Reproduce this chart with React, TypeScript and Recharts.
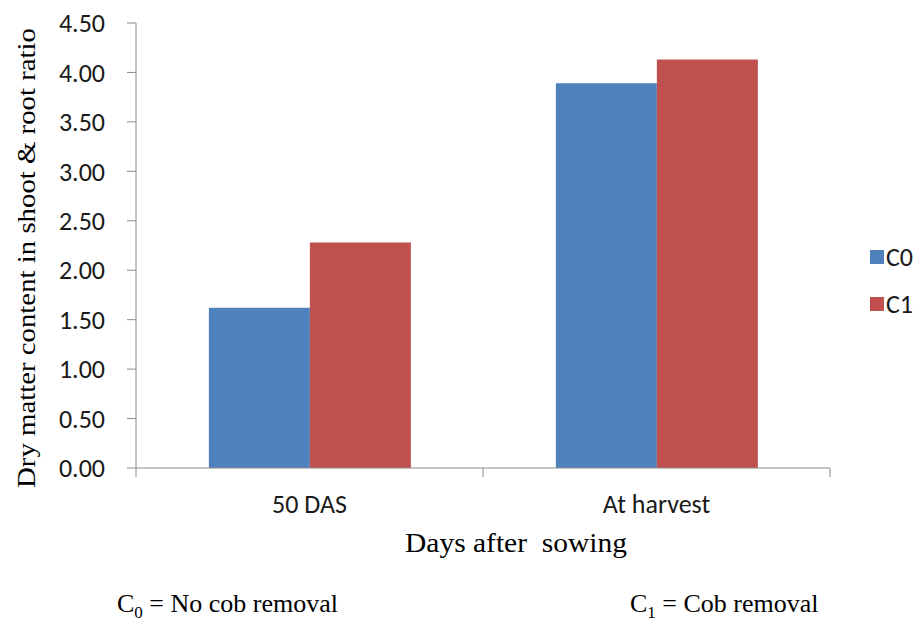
import { BarChart, Bar, XAxis, YAxis, Legend } from 'recharts';

// stages of sampling and the two cob treatments
const stages = ['50 DAS', 'At harvest'];
const c0Values = [1.62, 3.89];
const c1Values = [2.28, 4.13];
const yTicks = [0, 0.5, 1, 1.5, 2, 2.5, 3, 3.5, 4, 4.5];
const seriesNames = ['C0', 'C1'];

const data = stages.map((stage, i) => ({ stage, C0: c0Values[i], C1: c1Values[i] }));

const WIDTH = 923;
const HEIGHT = 621;
const Y_AXIS_W = 136;
const MARGIN = { top: 23, right: 93, left: 0, bottom: 93 };
const BAND = (WIDTH - Y_AXIS_W - MARGIN.right) / stages.length;

const AXIS_COLOR = '#8a8a8a';
const SANS = 'Carlito, Lato, sans-serif';
const SERIF = '"Liberation Serif", "Times New Roman", serif';
const COLORS = { C0: '#4F81BD', C1: '#C0504D' };

const CategoryTick = (props: any) => {
  const { x, y, payload, index } = props;
  const half = BAND / 2;
  return (
    <g>
      <line x1={x - half} y1={y} x2={x - half} y2={y + 9} stroke={AXIS_COLOR} />
      {index === stages.length - 1 && (
        <line x1={x + half} y1={y} x2={x + half} y2={y + 9} stroke={AXIS_COLOR} />
      )}
      <text x={x} y={y + 36} textAnchor="middle" dominantBaseline="central" fill="#1a1a1a" fontSize={26} fontFamily={SANS}>
        {payload.value}
      </text>
    </g>
  );
};

const YTitle = () => (
  <text
    x={26}
    y={258}
    transform="rotate(-90, 26, 258)"
    textAnchor="middle"
    dominantBaseline="central"
    fill="#000"
    fontSize={26}
    fontFamily={SERIF}
    textLength={460}
    lengthAdjust="spacingAndGlyphs"
  >
    Dry matter content in shoot &amp; root ratio
  </text>
);

const XTitle = () => (
  <text
    x={516}
    y={543}
    textAnchor="middle"
    dominantBaseline="central"
    fill="#000"
    fontSize={27}
    fontFamily={SERIF}
    textLength={222}
    lengthAdjust="spacingAndGlyphs"
    style={{ whiteSpace: 'pre' }}
  >
    {'Days after  sowing'}
  </text>
);

const LegendContent = () => (
  <div style={{ fontFamily: SANS, fontSize: 26, color: '#1a1a1a' }}>
    {seriesNames.map((name) => (
      <div key={name} style={{ display: 'flex', alignItems: 'center', height: 47 }}>
        <span
          style={{
            display: 'inline-block',
            width: 14,
            height: 14,
            background: COLORS[name as 'C0' | 'C1'],
            marginRight: 2,
          }}
        />
        <span>{name}</span>
      </div>
    ))}
  </div>
);

const footStyle: React.CSSProperties = {
  position: 'absolute',
  top: 589,
  fontFamily: SERIF,
  fontSize: 26,
  color: '#000',
  whiteSpace: 'nowrap',
};

export default function App() {
  return (
    <div style={{ position: 'absolute', left: 0, top: 0, width: WIDTH, height: HEIGHT, background: '#fff' }}>
      <BarChart width={WIDTH} height={HEIGHT} data={data} margin={MARGIN} barCategoryGap="21%" barGap={0}>
        <XAxis
          dataKey="stage"
          stroke={AXIS_COLOR}
          tickLine={false}
          tickSize={0}
          tickMargin={0}
          height={60}
          tick={<CategoryTick />}
          interval={0}
          label={<XTitle />}
        />
        <YAxis
          width={Y_AXIS_W}
          domain={[0, 4.5]}
          ticks={yTicks}
          interval={0}
          stroke={AXIS_COLOR}
          tickSize={9}
          tickMargin={22}
          tick={{ fill: '#1a1a1a', fontSize: 26, fontFamily: SANS }}
          tickFormatter={(v: number) => v.toFixed(2)}
          label={<YTitle />}
        />
        <Legend
          layout="vertical"
          align="center"
          verticalAlign="middle"
          content={<LegendContent />}
          wrapperStyle={{ position: 'absolute', left: 870, top: 233, width: 60 }}
        />
        <Bar dataKey="C0" fill={COLORS.C0} isAnimationActive={false} />
        <Bar dataKey="C1" fill={COLORS.C1} isAnimationActive={false} />
      </BarChart>
      <div style={{ ...footStyle, left: 117 }}>
        C<sub style={{ fontSize: 17 }}>0</sub> = No cob removal
      </div>
      <div style={{ ...footStyle, left: 630 }}>
        C<sub style={{ fontSize: 17 }}>1</sub> = Cob removal
      </div>
    </div>
  );
}
